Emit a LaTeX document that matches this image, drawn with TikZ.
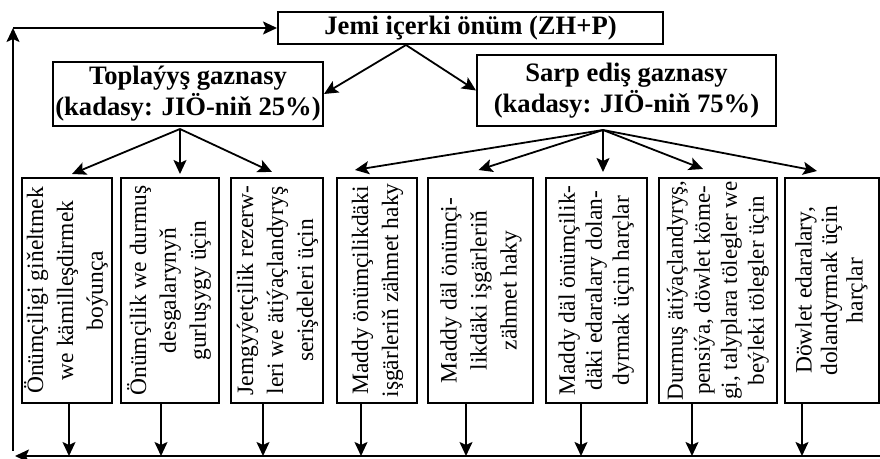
\documentclass[tikz,border=0pt]{standalone}
\usepackage{fontspec}
\setmainfont{Liberation Serif}
\usetikzlibrary{arrows.meta,calc,positioning}

\newcommand{\vtext}[1]{\rotatebox{90}{\begin{tabular}{@{}c@{}}#1\end{tabular}}}

\begin{document}
\begin{tikzpicture}[x=0.5pt,y=-0.5pt,
    box/.style={draw, line width=1pt, inner sep=0pt, align=center},
    fund/.style={box, font=\fontsize{13.3}{15.5}\selectfont\bfseries},
    vbox/.style={box, minimum height=112.5pt, font=\fontsize{11.75}{15}\selectfont},
    arr/.style={-{Stealth[length=7pt,width=6.5pt,inset=1.5pt]}, line width=0.9pt}]
    \useasboundingbox (0,0) rectangle (880,459);

    % Funds
    \node[fund, minimum width=192.5pt, minimum height=16pt] (top) at (470.5,28) {Jemi içerki önüm (ZH+P)};
    \node[fund, minimum width=135pt, minimum height=32pt] (fund1) at (188,94) {Toplaýyş gaznasy\\(kadasy: JIÖ-niň 25\%)};
    \node[fund, minimum width=149.5pt, minimum height=35.5pt] (fund2) at (626.5,90.5) {Sarp ediş gaznasy\\(kadasy: JIÖ-niň 75\%)};

    % Uses
    \node[vbox, minimum width=45pt] (b1) at (67,290.5) {\vtext{Önümçiligi giňeltmek\\we kämilleşdirmek\\boýunça}};
    \node[vbox, minimum width=49pt] (b2) at (170,290.5) {\vtext{Önümçilik we durmuş\\desgalarynyň\\gurluşygy üçin}};
    \node[vbox, minimum width=46pt] (b3) at (277,290.5) {\vtext{Jemgyýetçilik rezerw-\\leri we ätiýaçlandyryş\\serişdeleri üçin}};
    \node[vbox, minimum width=40pt] (b4) at (377,290.5) {\vtext{Maddy önümçilikdäki\\işgärleriň zähmet haky}};
    \node[vbox, minimum width=52.5pt] (b5) at (480.5,290.5) {\vtext{Maddy däl önümçi-\\likdäki işgärleriň\\zähmet haky}};
    \node[vbox, minimum width=50.5pt, font=\fontsize{11.75}{13.5}\selectfont] (b6) at (596.5,290.5) {\vtext{Maddy däl önümçilik-\\däki edaralary dolan-\\dyrmak üçin harçlar}};
    \node[vbox, minimum width=59pt, font=\fontsize{11.5}{13.5}\selectfont] (b7) at (718,290.5) {\vtext{Durmuş ätiýaçlandyryş,\\pensiýa, döwlet köme-\\gi, talyplara tölegler we\\beýleki tölegler üçin}};
    \node[vbox, minimum width=47pt, font=\fontsize{11.75}{12.75}\selectfont] (b8) at (832,290.5) {\vtext{Döwlet edaralary,\\dolandyrmak üçin\\harçlar}};

    \coordinate (t0) at ([xshift=-32.25pt]top.south);
    \coordinate (f1) at ([xshift=-4pt,yshift=-1pt]fund1.south);
    \coordinate (f2) at ([xshift=-11.75pt,yshift=-1.5pt]fund2.south);
    \coordinate (br) at (880,456);
    \coordinate (bl) at (15,456);
    \coordinate (lb) at (13,451);
    \coordinate (lt) at (13,28);

    \draw[arr] (t0) -- (fund1.east);
    \draw[arr] (t0) -- (fund2.west);

    \draw[arr] (f1) -- ([xshift=2.5pt,yshift=1.5pt]b1.north);
    \draw[arr] (f1) -- ($(f1 |- b2.north)+(0,1.5pt)$);
    \draw[arr] (f1) -- ([xshift=-2.5pt,yshift=2.5pt]b3.north);

    \draw[arr] (f2) -- ([xshift=-11pt,yshift=3.5pt]b4.north);
    \draw[arr] (f2) -- ([xshift=-1pt,yshift=3.5pt]b5.north);
    \draw[arr] (f2) -- ($(f2 |- b6.north)+(0,2.5pt)$);
    \draw[arr] (f2) -- ([xshift=-7.5pt,yshift=4pt]b7.north);
    \draw[arr] (f2) -- ([xshift=-7.5pt,yshift=3pt]b8.north);

    % Back to the product
    \draw[arr] (br) -- (bl);
    \draw[arr] (lb) -- (lt);
    \draw[arr] (lt) -- (top.west);
    \foreach \b/\s in {b1/1pt, b2/-4.5pt, b3/-7pt, b4/-8pt, b5/-7.25pt, b6/-7.75pt, b7/-13pt, b8/-15pt}
        \draw[arr] ([xshift=\s]\b.south) -- ($(\b.south |- br)+(\s,0)$);
\end{tikzpicture}
\end{document}
